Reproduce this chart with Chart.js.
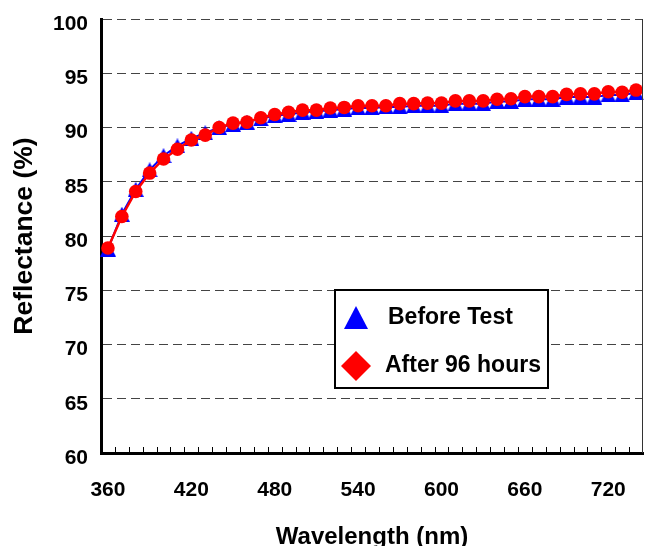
<!DOCTYPE html>
<html>
<head>
<meta charset="utf-8">
<script src="https://cdn.jsdelivr.net/npm/chart.js"></script>
<style>
  html, body { margin: 0; padding: 0; background: #fff; overflow: hidden; }
  #wrap { width: 645px; height: 546px; position: relative; overflow: hidden; }
  #chart { display: block; }
</style>
</head>
<body>
<div id="wrap"><canvas id="chart"></canvas></div>
<script>
// wavelengths (nm), one category per measurement
const wavelengths = [360, 370, 380, 390, 400, 410, 420, 430, 440, 450, 460, 470, 480, 490, 500,
    510, 520, 530, 540, 550, 560, 570, 580, 590, 600, 610, 620, 630, 640, 650,
    660, 670, 680, 690, 700, 710, 720, 730, 740];
const xTickLabels = [360, 420, 480, 540, 600, 660, 720];

// reflectance (%)
const beforeTest = [78.8, 82.0, 84.3, 86.1, 87.4, 88.3, 89.0, 89.5, 90.0, 90.3, 90.5, 90.8, 91.1, 91.2, 91.4,
    91.5, 91.6, 91.7, 91.8, 91.8, 91.9, 91.9, 92.0, 92.0, 92.0, 92.2, 92.2, 92.2, 92.4, 92.4,
    92.6, 92.6, 92.6, 92.8, 92.8, 92.8, 93.0, 93.0, 93.2];
const after96h = [78.9, 81.8, 84.1, 85.8, 87.1, 88.0, 88.85, 89.3, 90.0, 90.4, 90.5, 90.9, 91.2, 91.4, 91.6,
    91.6, 91.8, 91.85, 92.0, 92.0, 92.0, 92.2, 92.2, 92.25, 92.25, 92.45, 92.45, 92.45, 92.6, 92.65,
    92.85, 92.85, 92.85, 93.05, 93.1, 93.1, 93.3, 93.25, 93.45];

const FONT = "Arial, 'Liberation Sans', sans-serif";

// triangle marker centred on its bounding box (like the original)
function triangleMarker(w, h, color) {
    const c = document.createElement("canvas");
    c.width = w; c.height = h;
    const g = c.getContext("2d");
    g.fillStyle = color;
    g.beginPath();
    g.moveTo(w / 2, 0);
    g.lineTo(w, h);
    g.lineTo(0, h);
    g.closePath();
    g.fill();
    return c;
}

// small tick marks pointing up into the plot, between categories, plus the right frame line
const frameTicks = {
    id: "frameTicks",
    afterDatasetsDraw(chart) {
        const ctx = chart.ctx;
        const area = chart.chartArea;
        const x = chart.scales.x;
        ctx.save();
        ctx.strokeStyle = "#000";
        ctx.lineWidth = 1;
        ctx.beginPath();
        for (let i = 0; i < wavelengths.length - 1; i++) {
            const px = Math.round((x.getPixelForValue(i) + x.getPixelForValue(i + 1)) / 2) + 0.5;
            ctx.moveTo(px, area.bottom);
            ctx.lineTo(px, area.bottom - 6);
        }
        ctx.stroke();
        ctx.strokeStyle = "#333";
        ctx.beginPath();
        ctx.moveTo(Math.round(area.right) - 0.5, area.top);
        ctx.lineTo(Math.round(area.right) - 0.5, area.bottom);
        ctx.stroke();
        ctx.restore();
    }
};

// boxed legend inside the plot
const boxLegend = {
    id: "boxLegend",
    afterDraw(chart) {
        const ctx = chart.ctx;
        ctx.save();
        ctx.fillStyle = "#fff";
        ctx.fillRect(335, 290, 213, 98);
        ctx.strokeStyle = "#000";
        ctx.lineWidth = 2;
        ctx.strokeRect(335, 290, 213, 98);

        ctx.fillStyle = "#0000ff";
        ctx.beginPath();
        ctx.moveTo(356, 306);
        ctx.lineTo(368, 329);
        ctx.lineTo(344, 329);
        ctx.closePath();
        ctx.fill();

        ctx.fillStyle = "#ff0000";
        ctx.beginPath();
        ctx.moveTo(356, 351);
        ctx.lineTo(371, 366);
        ctx.lineTo(356, 381);
        ctx.lineTo(341, 366);
        ctx.closePath();
        ctx.fill();

        ctx.fillStyle = "#000";
        ctx.font = "bold 23px " + FONT;
        ctx.textBaseline = "middle";
        ctx.fillText("Before Test", 388, 318);
        ctx.fillText("After 96 hours", 385, 366);
        ctx.restore();
    }
};

new Chart(document.getElementById("chart"), {
    type: "line",
    data: {
        labels: wavelengths,
        datasets: [{
            label: "Before Test",
            data: beforeTest,
            borderColor: "#0000ff",
            backgroundColor: "#0000ff",
            borderWidth: 2,
            pointStyle: triangleMarker(16, 15, "#0000ff"),
            pointRadius: 7,
            order: 1
        }, {
            label: "After 96 hours",
            data: after96h,
            borderColor: "#ff0000",
            backgroundColor: "#ff0000",
            borderWidth: 2.5,
            pointStyle: "circle",
            pointRadius: 6.8,
            pointBorderWidth: 0,
            order: 0
        }]
    },
    options: {
        responsive: true,
        maintainAspectRatio: false,
        animation: false,
        layout: { autoPadding: false, padding: { top: 19, right: 2, left: 0, bottom: 0 } },
        plugins: { legend: { display: false }, tooltip: { enabled: false } },
        elements: { line: { tension: 0 } },
        scales: {
            x: {
                type: "category",
                offset: true,
                // invisible tick marks only used to push the labels down
                grid: { display: true, drawOnChartArea: false, drawTicks: true, tickLength: 25, tickColor: "rgba(0,0,0,0)" },
                border: { display: true, color: "#000", width: 3 },
                ticks: {
                    autoSkip: false,
                    maxRotation: 0,
                    padding: 0,
                    color: "#000",
                    font: { family: FONT, size: 21, weight: "bold" },
                    callback: function (value, i) {
                        const w = wavelengths[i];
                        return xTickLabels.includes(w) ? String(w) : "";
                    }
                },
                title: {
                    display: true,
                    text: "Wavelength (nm)",
                    color: "#000",
                    font: { family: FONT, size: 24, weight: "bold", lineHeight: 0.75 },
                    padding: { top: 0, bottom: 0 }
                },
                afterFit: function (scale) {
                    scale.height = 93;
                    scale.paddingLeft = 0;
                    scale.paddingRight = 0;
                }
            },
            y: {
                min: 60,
                max: 100,
                ticks: {
                    stepSize: 5,
                    padding: 0,
                    labelOffset: 5,
                    color: "#000",
                    font: { family: FONT, size: 21, weight: "bold" }
                },
                grid: { color: "#444", lineWidth: 1, drawTicks: true, tickLength: 13, tickColor: "rgba(0,0,0,0)" },
                border: { display: true, color: "#000", width: 3, dash: [9, 5] },
                title: {
                    display: true,
                    text: "Reflectance (%)",
                    color: "#000",
                    font: { family: FONT, size: 26.5, weight: "bold" },
                    padding: { top: 8.5, bottom: 0 }
                },
                afterFit: function (scale) { scale.width = 101; }
            }
        }
    },
    plugins: [frameTicks, boxLegend]
});
</script>
</body>
</html>
